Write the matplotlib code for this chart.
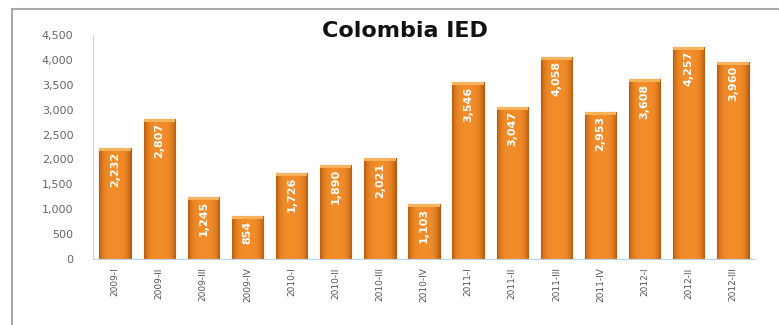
import matplotlib
matplotlib.use("Agg")
import matplotlib.pyplot as plt
import numpy as np
from matplotlib.patches import Rectangle
from matplotlib.ticker import FuncFormatter

categories = ["2009-I", "2009-II", "2009-III", "2009-IV",
              "2010-I", "2010-II", "2010-III", "2010-IV",
              "2011-I", "2011-II", "2011-III", "2011-IV",
              "2012-I", "2012-II", "2012-III"]
values = [2232, 2807, 1245, 854, 1726, 1890, 2021, 1103,
          3546, 3047, 4058, 2953, 3608, 4257, 3960]
yticks = [0, 500, 1000, 1500, 2000, 2500, 3000, 3500, 4000, 4500]

fig = plt.figure(figsize=(7.79, 3.25), dpi=100)
ax = fig.add_axes([93/779, 66/325, (755-93)/779, (259-35)/325])

x = np.arange(len(categories))
width = 0.71
bars = ax.bar(x, values, width=width, color="#E5801F", edgecolor="#B55A10", linewidth=0.8, zorder=2)

# cylinder-like shading inside each bar
grad = np.linspace(0, 1, 64)
shade = 1 - (2 * grad - 1) ** 4
img = np.zeros((1, 64, 4))
dark = np.array([0.72, 0.36, 0.06])
light = np.array([0.95, 0.55, 0.16])
for i in range(64):
    img[0, i, :3] = dark + (light - dark) * shade[i]
    img[0, i, 3] = 1.0
for b in bars:
    x0, w, h = b.get_x(), b.get_width(), b.get_height()
    im = ax.imshow(img, extent=[x0, x0 + w, 0, h], aspect="auto", zorder=2.5, interpolation="bilinear")
    im.set_clip_path(b)
    # top cap highlight
    ax.add_patch(Rectangle((x0, h - 55), w, 55, facecolor="#F5B35C", edgecolor="none", zorder=2.6))

for xi, v in zip(x, values):
    ax.text(xi, v - 80, f"{v:,}", rotation=90, ha="center", va="top",
            color="white", fontsize=8, fontweight="bold", zorder=3)

ax.set_xlim(-0.5, len(categories) - 0.5)
ax.set_ylim(0, 4500)
ax.set_yticks(yticks)
ax.yaxis.set_major_formatter(FuncFormatter(lambda v, p: f"{int(v):,}"))
ax.set_xticks(x)
ax.set_xticklabels(categories, rotation=90, fontsize=6.5, color="#555555")
ax.tick_params(axis="y", length=0, labelsize=8, colors="#666666", pad=14)
ax.tick_params(axis="x", length=0, pad=6)
for s in ["top", "right"]:
    ax.spines[s].set_visible(False)
ax.spines["left"].set_color("#D0D0D0")
ax.spines["bottom"].set_color("#BFD4E6")

fig.text(405/779, 1 - 31/325, "Colombia IED", ha="center", va="center",
         fontsize=16, fontweight="bold", color="#111111")

fig.patches.append(Rectangle((12/779, -0.1), 1.2, 1 - 9/325 + 0.1, transform=fig.transFigure,
                             facecolor="none", edgecolor="#A8A8A8", linewidth=1.5, zorder=0))

fig.savefig("out.png", dpi=100)
